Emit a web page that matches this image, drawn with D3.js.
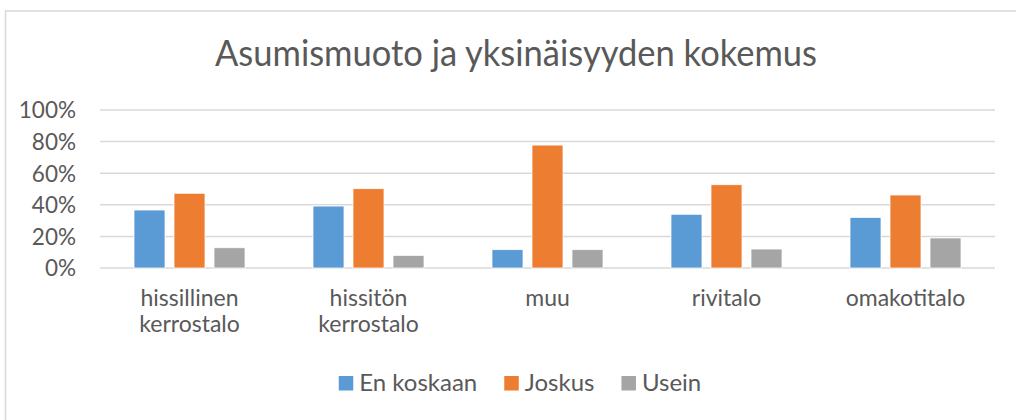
<!DOCTYPE html>
<html>
<head>
<meta charset="utf-8">
<script src="https://cdn.jsdelivr.net/npm/d3@7"></script>
<style>
  body { margin: 0; background: #fff; }
  text { font-family: Lato, "Open Sans", sans-serif; fill: #595959; }
</style>
</head>
<body>
<div id="chart-area"></div>
<script>
const categories = [["hissillinen", "kerrostalo"], ["hissitön", "kerrostalo"], ["muu"], ["rivitalo"], ["omakotitalo"]]
const seriesNames = ["En koskaan", "Joskus", "Usein"]
const enKoskaan = [0.367, 0.392, 0.116, 0.340, 0.320]
const joskus = [0.473, 0.502, 0.778, 0.527, 0.462]
const usein = [0.128, 0.080, 0.116, 0.120, 0.190]
const yTicks = [0, 0.2, 0.4, 0.6, 0.8, 1]
const colors = ["#5B9BD5", "#ED7D31", "#A5A5A5"]

const WIDTH = 1016
const HEIGHT = 420
const PLOT = { LEFT: 100, RIGHT: 995, TOP: 110, BOTTOM: 268 }

const svg = d3.select("#chart-area").append("svg")
  .attr("width", WIDTH)
  .attr("height", HEIGHT)

// chart frame
svg.append("rect")
  .attr("x", 5.5).attr("y", 11)
  .attr("width", 1100).attr("height", 500)
  .attr("fill", "none")
  .attr("stroke", "#d9d9d9")
  .attr("stroke-width", 1.5)

// title
svg.append("text")
  .attr("x", 516)
  .attr("y", 66)
  .attr("text-anchor", "middle")
  .attr("textLength", 602)
  .attr("lengthAdjust", "spacingAndGlyphs")
  .style("font-size", "37px")
  .text("Asumismuoto ja yksinäisyyden kokemus")

const keys = categories.map(c => c.join(" "))
const x = d3.scaleBand()
  .domain(keys)
  .range([PLOT.LEFT, PLOT.RIGHT])

const xSub = d3.scaleBand()
  .domain(seriesNames)
  .range([0, x.bandwidth()])
  .paddingInner(0.225)
  .paddingOuter(0.85)

const y = d3.scaleLinear()
  .domain([0, 1])
  .range([PLOT.BOTTOM, PLOT.TOP])

// gridlines
svg.append("g")
  .selectAll("line")
  .data(yTicks)
  .enter().append("line")
  .attr("x1", PLOT.LEFT).attr("x2", PLOT.RIGHT)
  .attr("y1", d => y(d)).attr("y2", d => y(d))
  .attr("stroke", "#d9d9d9")
  .attr("stroke-width", 1.5)

// y axis labels
const yAxis = d3.axisLeft(y).tickValues(yTicks).tickFormat(d3.format(".0%")).tickSize(0).tickPadding(0)
const yG = svg.append("g")
  .attr("transform", `translate(76, 0)`)
  .call(yAxis)
yG.select(".domain").remove()
yG.selectAll("text")
  .attr("dy", "0.35em")
  .style("font-size", "22.5px")
  .attr("fill", "#595959")

// bars
const values = [enKoskaan, joskus, usein]
const rows = keys.map((k, i) => seriesNames.map((s, j) => ({ cat: k, series: s, value: values[j][i], color: colors[j] })))

svg.append("g")
  .selectAll("g")
  .data(rows)
  .enter().append("g")
  .attr("transform", d => `translate(${x(d[0].cat)}, 0)`)
  .selectAll("rect")
  .data(d => d)
  .enter().append("rect")
  .attr("x", d => xSub(d.series))
  .attr("width", xSub.bandwidth())
  .attr("y", d => y(d.value))
  .attr("height", d => y(0) - y(d.value))
  .attr("fill", d => d.color)
  .attr("stroke", "#fff")
  .attr("stroke-width", 0.75)

// category labels
const catG = svg.append("g")
  .selectAll("text")
  .data(categories)
  .enter().append("text")
  .attr("x", (d, i) => x(keys[i]) + x.bandwidth() / 2)
  .attr("y", 306)
  .attr("text-anchor", "middle")
  .style("font-size", "23px")
catG.selectAll("tspan")
  .data(d => d)
  .enter().append("tspan")
  .attr("x", function () { return this.parentNode.getAttribute("x") })
  .attr("dy", (d, i) => i === 0 ? 0 : 26)
  .text(d => d)

// legend
const legend = svg.append("g")
const items = legend.selectAll("g")
  .data(seriesNames)
  .enter().append("g")
items.append("rect")
  .attr("width", 14.5).attr("height", 14.5)
  .attr("y", 376)
  .attr("fill", (d, i) => colors[i])
items.append("text")
  .attr("x", 20.5)
  .attr("y", 391)
  .style("font-size", "24px")
  .text(d => d)

let cursor = 0
items.each(function () {
  const w = this.querySelector("text").getComputedTextLength()
  d3.select(this).attr("transform", `translate(${cursor}, 0)`)
  cursor += 20.5 + w + 27
})
const legendWidth = cursor - 27
legend.attr("transform", `translate(${520 - legendWidth / 2}, 0)`)
</script>
</body>
</html>
